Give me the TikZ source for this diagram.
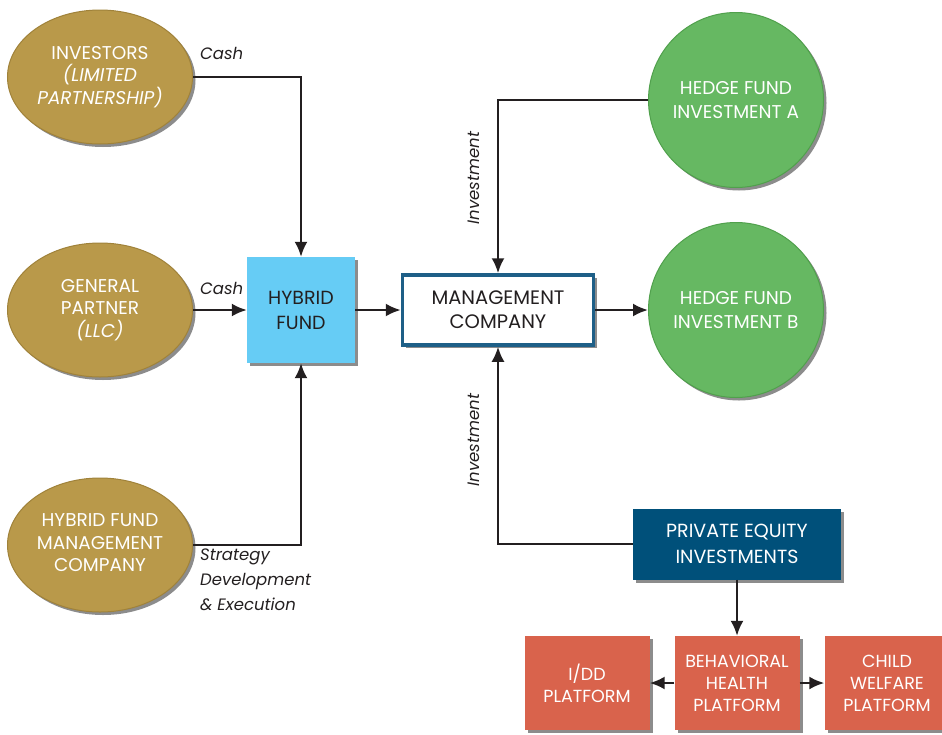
\documentclass[tikz,border=0pt]{standalone}
\usepackage{fontspec}
\setmainfont{Poppins}
\usetikzlibrary{arrows.meta,shapes.geometric,shadows}
\definecolor{gold}{RGB}{185,153,74}
\definecolor{goldrim}{RGB}{160,130,58}
\definecolor{hgreen}{RGB}{102,184,98}
\definecolor{hgreenrim}{RGB}{80,160,76}
\definecolor{lblue}{RGB}{102,204,245}
\definecolor{dblue}{RGB}{0,80,122}
\definecolor{mborder}{RGB}{30,95,135}
\definecolor{coral}{RGB}{217,99,76}
\definecolor{ink}{RGB}{35,31,32}
\tikzset{
  shad/.style={drop shadow={shadow xshift=3pt,shadow yshift=-3pt,opacity=0.45,fill=black}},
  goldell/.style={ellipse,shad,fill=gold,draw=goldrim,line width=1pt,minimum width=185pt,minimum height=134pt,inner sep=0pt,text=white,align=center,text depth=4pt,font=\fontsize{18.5}{22.5}\selectfont},
  greencirc/.style={circle,shad,fill=hgreen,draw=hgreenrim,line width=1pt,minimum size=175pt,inner sep=0pt,text=white,align=center,font=\fontsize{18.5}{24}\selectfont},
  hybox/.style={rectangle,shad,fill=lblue,minimum width=108pt,minimum height=106pt,inner sep=0pt,text=ink,align=center,font=\fontsize{19}{25}\selectfont},
  mgbox/.style={rectangle,shad,fill=white,draw=mborder,line width=3.5pt,minimum width=191pt,minimum height=70pt,inner sep=0pt,text=ink,align=center,font=\fontsize{19.5}{24}\selectfont},
  pebox/.style={rectangle,shad,fill=dblue,minimum width=208pt,minimum height=71pt,inner sep=0pt,text=white,align=center,font=\fontsize{19}{26}\selectfont},
  platbox/.style={rectangle,shad,fill=coral,minimum width=125pt,minimum height=94pt,inner sep=0pt,text=white,align=center,font=\fontsize{17.5}{22}\selectfont},
  lbl/.style={text=ink,font=\fontsize{16.5}{25}\selectfont\itshape,inner sep=0pt},
  arr/.style={draw=ink,line width=2.3pt,-{Latex[length=15pt,width=13pt]}},
}
\begin{document}
\begin{tikzpicture}[x=1pt,y=-1pt]
\useasboundingbox (0,0) rectangle (942,734);
% nodes
\node[goldell] (inv) at (100,77) {INVESTORS\\{\itshape (LIMITED}\\{\itshape PARTNERSHIP)}};
\node[goldell] (gp) at (100,310) {GENERAL\\PARTNER\\{\itshape (LLC)}};
\node[goldell] (hfmc) at (100,545) {HYBRID FUND\\MANAGEMENT\\COMPANY};
\node[hybox] (hf) at (301,310) {HYBRID\\FUND};
\node[mgbox] (mgmt) at (498,310) {MANAGEMENT\\COMPANY};
\node[greencirc] (hfa) at (736,100) {HEDGE FUND\\INVESTMENT A};
\node[greencirc] (hfb) at (736,310) {HEDGE FUND\\INVESTMENT B};
\node[pebox] (pe) at (737,544) {PRIVATE EQUITY\\INVESTMENTS};
\node[platbox] (idd) at (587,683) {I/DD\\PLATFORM};
\node[platbox] (bh) at (737,683) {BEHAVIORAL\\HEALTH\\PLATFORM};
\node[platbox] (cw) at (887,683) {CHILD\\WELFARE\\PLATFORM};
% connectors
\draw[arr] (inv.east) -| (hf.north);
\draw[arr] (gp.east) -- (hf.west);
\draw[arr] (hfmc.east) -| (hf.south);
\draw[arr] (hf.east) -- (mgmt.west);
\draw[arr] (hfa.west) -| (mgmt.north);
\draw[arr] (mgmt.east) -- (hfb.west);
\draw[arr] (pe.west) -| (mgmt.south);
\draw[arr] (pe.south) -- (bh.north);
\draw[arr] (bh.west) -- (idd.east);
\draw[arr] (bh.east) -- (cw.west);
% labels
\node[lbl,anchor=west] (c1) at (200,53) {Cash};
\node[lbl,anchor=west] (c2) at (200,288) {Cash};
\node[lbl,anchor=north west,align=left] (sd) at (200,549) {Strategy\\Development\\\& Execution};
\node[lbl,rotate=90] (i1) at (474,178) {Investment};
\node[lbl,rotate=90] (i2) at (474,440) {Investment};
\end{tikzpicture}
\end{document}
